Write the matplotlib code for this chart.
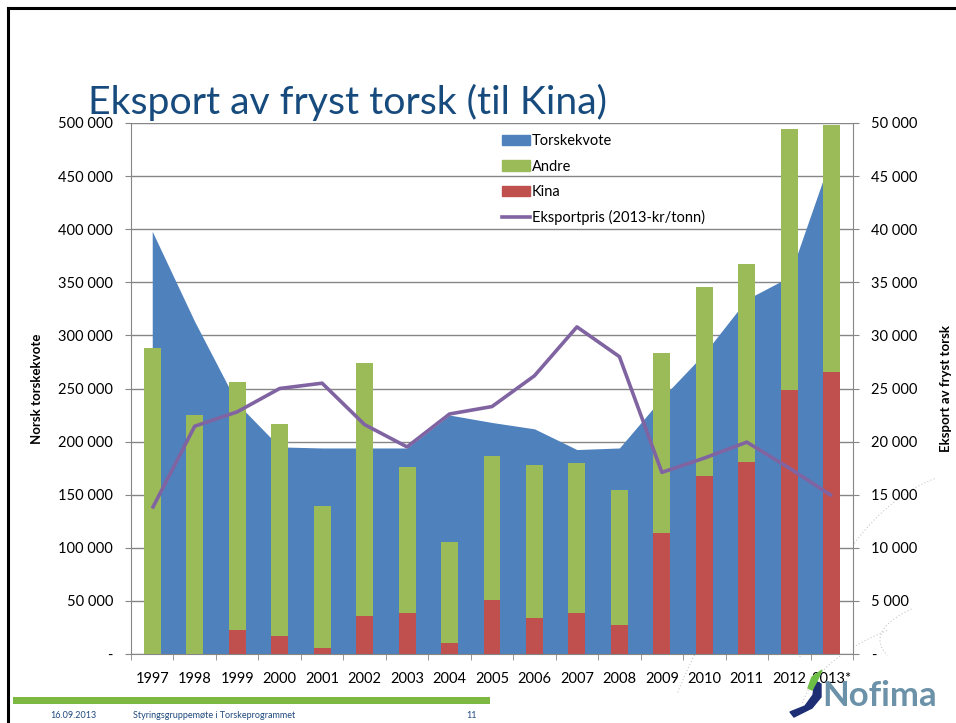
import matplotlib
matplotlib.use("Agg")
import matplotlib.pyplot as plt
from matplotlib.ticker import FuncFormatter, FixedLocator
from matplotlib.patches import Rectangle, Polygon
from matplotlib.lines import Line2D
import numpy as np

plt.rcParams['font.family'] = ['Lato', 'DejaVu Sans']

years = ["1997", "1998", "1999", "2000", "2001", "2002", "2003", "2004", "2005",
         "2006", "2007", "2008", "2009", "2010", "2011", "2012", "2013*"]
torskekvote = [398000, 313000, 236000, 195000, 194000, 194000, 194000, 225000, 218000,
               212000, 192500, 194000, 241000, 283000, 334000, 355000, 470000]
kina = [0, 0, 2300, 1700, 600, 3550, 3850, 1000, 5100,
        3400, 3850, 2700, 11350, 16750, 18050, 24850, 26550]
andre = [28800, 22500, 23300, 20000, 13300, 23850, 13750, 9500, 13550,
         14350, 14150, 12700, 17000, 17850, 18700, 24550, 23250]
eksportpris = [13700, 21450, 22800, 25000, 25500, 21600, 19500, 22600, 23300,
               26200, 30800, 28000, 17100, 18450, 19950, 17500, 14900]

C_BLUE = '#4F81BD'
C_GREEN = '#9BBB59'
C_RED = '#C0504D'
C_PURPLE = '#8064A2'
C_AXIS = '#868686'
C_TITLE = '#174B7E'

W, H = 956, 723
fig = plt.figure(figsize=(W / 100, H / 100), dpi=100)

def fx(px):
    return px / W

def fy(py):
    return 1 - py / H

ax_l, ax_r, ax_t, ax_b = 131, 853, 123, 654
ax = fig.add_axes([fx(ax_l), fy(ax_b), fx(ax_r - ax_l), (ax_b - ax_t) / H])
ax2 = ax.twinx()

x = np.arange(len(years))

# Area (left axis)
ax.fill_between(x, torskekvote, 0, color=C_BLUE, linewidth=0, zorder=2)
ax.set_ylim(0, 500000)
ax.set_xlim(-0.5, len(years) - 0.5)
ax.yaxis.set_major_locator(FixedLocator(np.arange(0, 500001, 50000)))
ax.grid(axis='y', color=C_AXIS, linewidth=1.0, zorder=0)
ax.set_axisbelow(True)

def fmt(v, pos):
    if v == 0:
        return '-'
    return f"{int(v):,}".replace(',', ' ')

ax.yaxis.set_major_formatter(FuncFormatter(fmt))
ax2.yaxis.set_major_formatter(FuncFormatter(fmt))

# Bars and line (right axis)
bw = 0.4
ax2.bar(x, kina, width=bw, color=C_RED, zorder=3, label='Kina')
ax2.bar(x, andre, width=bw, bottom=kina, color=C_GREEN, zorder=3, label='Andre')
ax2.plot(x, eksportpris, color=C_PURPLE, linewidth=2.6, zorder=4,
         solid_joinstyle='round', solid_capstyle='butt')
ax2.set_ylim(0, 50000)
ax2.yaxis.set_major_locator(FixedLocator(np.arange(0, 50001, 5000)))

# Axes styling
for a in (ax, ax2):
    for s in a.spines.values():
        s.set_visible(False)
ax.spines['left'].set_visible(True)
ax.spines['left'].set_color(C_AXIS)
ax.spines['bottom'].set_visible(True)
ax.spines['bottom'].set_color(C_AXIS)
ax2.spines['right'].set_visible(True)
ax2.spines['right'].set_color(C_AXIS)

ax.set_xticks(x)
ax.set_xticklabels(years)
ax.set_xticks(np.arange(-0.5, len(years), 1.0), minor=True)
ax.tick_params(axis='x', which='major', length=0, pad=13, labelsize=10.5, colors='black')
ax.tick_params(axis='x', which='minor', length=4, color=C_AXIS, direction='out')
ax.tick_params(axis='y', length=4, color=C_AXIS, labelsize=10.5, pad=9, labelcolor='black')
ax2.tick_params(axis='y', length=4, color=C_AXIS, labelsize=10.5, pad=9, labelcolor='black')

ax.set_ylabel('Norsk torskekvote', fontsize=9.5, fontweight='bold')
ax2.set_ylabel('Eksport av fryst torsk', fontsize=9.5, fontweight='bold', rotation=90)
ax.yaxis.set_label_coords((43 - ax_l) / (ax_r - ax_l), 0.5)
ax2.yaxis.set_label_coords((940 - ax_l) / (ax_r - ax_l), 0.5)

# Legend
handles = [Rectangle((0, 0), 1, 1, color=C_BLUE),
           Rectangle((0, 0), 1, 1, color=C_GREEN),
           Rectangle((0, 0), 1, 1, color=C_RED),
           Line2D([0], [0], color=C_PURPLE, linewidth=2.6)]
labels = ['Torskekvote', 'Andre', 'Kina', 'Eksportpris (2013-kr/tonn)']
leg = ax2.legend(handles, labels, loc='upper left',
                 bbox_to_anchor=(fx(492), fy(124)), bbox_transform=fig.transFigure,
                 frameon=False, fontsize=10.5, handlelength=1.9, handletextpad=0.12,
                 labelspacing=0.78, borderpad=0.2)

# Title
fig.text(fx(88), fy(114), 'Eksport av fryst torsk (til Kina)', fontsize=28.3,
         color=C_TITLE, ha='left', va='baseline')

# Slide frame
fig.add_artist(Line2D([fx(8), fx(956)], [fy(8), fy(8)], color='black', linewidth=2.2))
fig.add_artist(Line2D([fx(8), fx(8)], [fy(8), fy(723)], color='black', linewidth=2.2))

# Background dotted arcs (faint globe)
t = np.linspace(0, 1, 200)
for cx, cy, rx, ry, a0, a1 in [(900, 900, 260, 400, 1.9, 2.6), (980, 800, 200, 330, 1.8, 2.7),
                               (1100, 640, 220, 60, 2.6, 3.4), (1060, 720, 260, 120, 2.3, 3.0)]:
    ang = a0 + (a1 - a0) * t
    xs = cx + rx * np.cos(ang)
    ys = cy - ry * np.sin(ang)
    fig.add_artist(Line2D(xs / W, 1 - ys / H, color='#C8C8C8', linewidth=0.8,
                          linestyle=(0, (1, 2)), zorder=0))

# Footer
fig.add_artist(Rectangle((fx(13), fy(704)), fx(490 - 13), 7 / H, color='#7DB843',
                         transform=fig.transFigure, linewidth=0))
fig.text(fx(50), fy(716), '16.09.2013', fontsize=6.5, color='#1F497D', va='center')
fig.text(fx(133), fy(716), 'Styringsgruppemøte i Torskeprogrammet', fontsize=6.5,
         color='#1F497D', va='center')
fig.text(fx(466), fy(716), '11', fontsize=6.5, color='#1F497D', va='center')

# Logo
fig.text(fx(822), fy(706), 'Nofima', fontsize=25, fontweight='bold', color='#6B92A8',
         ha='left', va='baseline')
swoosh = Polygon([(fx(790), fy(712)), (fx(805), fy(706)), (fx(813), fy(695)),
                  (fx(815), fy(681)), (fx(821), fy(684)), (fx(821), fy(697)),
                  (fx(812), fy(708)), (fx(794), fy(717))], closed=True,
                 color='#1D2E74', transform=fig.transFigure)
leaf = Polygon([(fx(808), fy(688)), (fx(812), fy(677)), (fx(822), fy(670)),
                (fx(817), fy(681)), (fx(812), fy(690))], closed=True,
               color='#6DBE45', transform=fig.transFigure)
fig.add_artist(swoosh)
fig.add_artist(leaf)

fig.savefig('out.png', dpi=100)
